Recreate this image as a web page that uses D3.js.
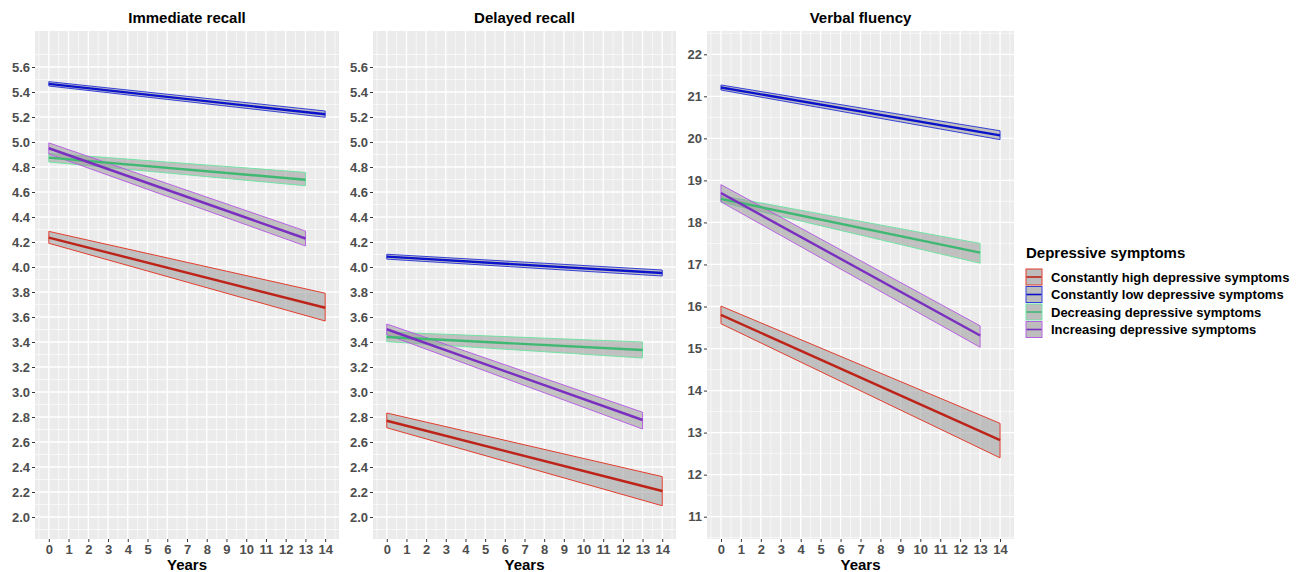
<!DOCTYPE html>
<html>
<head>
<meta charset="utf-8">
<script src="https://cdn.jsdelivr.net/npm/d3@7"></script>
<style>
  body { margin: 0; background: #fff; }
  text { font-family: "Liberation Sans", Arial, sans-serif; font-weight: bold; }
</style>
</head>
<body>
<script>
// groups, in legend order
var groups = ["Constantly high depressive symptoms", "Constantly low depressive symptoms",
              "Decreasing depressive symptoms", "Increasing depressive symptoms"];
var lineColor = ["#bd2318", "#0b12cc", "#3fb872", "#7a2fc0"];
var edgeColor = ["#e23d2d", "#3540d6", "#72e3a4", "#b862e3"];

// first and last year of each trajectory
var startYear = [0, 0, 0, 0];
var endYear = [14, 14, 13, 13];

// estimate / lower / upper at [start, end]
var immediateEst = [[4.235, 3.674], [5.465, 5.222], [4.875, 4.698], [4.950, 4.228]];
var immediateLo  = [[4.190, 3.568], [5.448, 5.198], [4.840, 4.650], [4.905, 4.168]];
var immediateHi  = [[4.285, 3.790], [5.483, 5.248], [4.910, 4.757], [4.993, 4.288]];

var delayedEst = [[2.770, 2.208], [4.083, 3.952], [3.440, 3.336], [3.502, 2.776]];
var delayedLo  = [[2.714, 2.090], [4.063, 3.928], [3.403, 3.272], [3.459, 2.704]];
var delayedHi  = [[2.832, 2.323], [4.102, 3.976], [3.480, 3.400], [3.544, 2.838]];

var fluencyEst = [[15.80, 12.82], [21.21, 20.07], [18.56, 17.28], [18.70, 15.31]];
var fluencyLo  = [[15.59, 12.40], [21.15, 19.97], [18.48, 17.03], [18.49, 15.03]];
var fluencyHi  = [[16.01, 13.22], [21.27, 20.18], [18.64, 17.50], [18.90, 15.54]];

// tick labels
var xTicks = [0, 1, 2, 3, 4, 5, 6, 7, 8, 9, 10, 11, 12, 13, 14];
var recallTicks = [2.0, 2.2, 2.4, 2.6, 2.8, 3.0, 3.2, 3.4, 3.6, 3.8, 4.0, 4.2, 4.4, 4.6, 4.8, 5.0, 5.2, 5.4, 5.6];
var fluencyTicks = [11, 12, 13, 14, 15, 16, 17, 18, 19, 20, 21, 22];

var panels = [
  {title: "Immediate recall", est: immediateEst, lo: immediateLo, hi: immediateHi,
   left: 35, right: 339, domain: [1.824, 5.888], ticks: recallTicks, step: 0.2, fmt: d3.format(".1f")},
  {title: "Delayed recall", est: delayedEst, lo: delayedLo, hi: delayedHi,
   left: 373, right: 676, domain: [1.824, 5.888], ticks: recallTicks, step: 0.2, fmt: d3.format(".1f")},
  {title: "Verbal fluency", est: fluencyEst, lo: fluencyLo, hi: fluencyHi,
   left: 707, right: 1014, domain: [10.469, 22.554], ticks: fluencyTicks, step: 1, fmt: d3.format("d")}
];

var plotTop = 31, plotBottom = 539;

var svg = d3.select("body").append("svg")
    .attr("width", 1306)
    .attr("height", 572);

svg.append("rect").attr("width", 1306).attr("height", 572).attr("fill", "#fff");

// minor breaks halfway between (extended) major breaks, kept inside the limits
function minorBreaks(ticks, step, dom) {
  var out = [];
  var b = [ticks[0] - step].concat(ticks, [ticks[ticks.length - 1] + step]);
  for (var i = 0; i < b.length - 1; i++) out.push((b[i] + b[i + 1]) / 2);
  return out.filter(function(v) { return v > dom[0] && v < dom[1]; });
}

panels.forEach(function(p) {
  var w = p.right - p.left, h = plotBottom - plotTop;
  var x = d3.scaleLinear().domain([-0.7, 14.7]).range([0, w]);
  var y = d3.scaleLinear().domain(p.domain).range([h, 0]);

  var g = svg.append("g").attr("transform", "translate(" + p.left + "," + plotTop + ")");

  g.append("rect").attr("width", w).attr("height", h).attr("fill", "#ebebeb");

  // gridlines
  var yMinor = minorBreaks(p.ticks, p.step, p.domain);
  var xMinor = minorBreaks(xTicks, 1, x.domain());
  g.selectAll(".ymin").data(yMinor).enter().append("line")
      .attr("x1", 0).attr("x2", w)
      .attr("y1", function(d) { return y(d); }).attr("y2", function(d) { return y(d); })
      .attr("stroke", "#fff").attr("stroke-width", 0.6);
  g.selectAll(".xmin").data(xMinor).enter().append("line")
      .attr("y1", 0).attr("y2", h)
      .attr("x1", function(d) { return x(d); }).attr("x2", function(d) { return x(d); })
      .attr("stroke", "#fff").attr("stroke-width", 0.6);
  g.selectAll(".ymaj").data(p.ticks).enter().append("line")
      .attr("x1", 0).attr("x2", w)
      .attr("y1", function(d) { return y(d); }).attr("y2", function(d) { return y(d); })
      .attr("stroke", "#fff").attr("stroke-width", 1.3);
  g.selectAll(".xmaj").data(xTicks).enter().append("line")
      .attr("y1", 0).attr("y2", h)
      .attr("x1", function(d) { return x(d); }).attr("x2", function(d) { return x(d); })
      .attr("stroke", "#fff").attr("stroke-width", 1.3);

  // ribbons
  groups.forEach(function(grp, i) {
    var xs = [startYear[i], endYear[i]];
    var pts = xs.map(function(t, k) { return {t: t, lo: p.lo[i][k], hi: p.hi[i][k]}; });
    var area = d3.area()
        .x(function(d) { return x(d.t); })
        .y0(function(d) { return y(d.lo); })
        .y1(function(d) { return y(d.hi); });
    g.append("path").datum(pts)
        .attr("d", area)
        .attr("fill", "#9a9a9a").attr("fill-opacity", 0.55)
        .attr("stroke", edgeColor[i]).attr("stroke-width", 1);
  });

  // lines
  groups.forEach(function(grp, i) {
    var pts = [startYear[i], endYear[i]].map(function(t, k) { return {t: t, v: p.est[i][k]}; });
    var line = d3.line().x(function(d) { return x(d.t); }).y(function(d) { return y(d.v); });
    g.append("path").datum(pts).attr("d", line)
        .attr("fill", "none").attr("stroke", lineColor[i]).attr("stroke-width", 2.4);
  });

  // axes
  var ya = g.append("g").call(d3.axisLeft(y).tickValues(p.ticks).tickFormat(p.fmt).tickSize(3).tickPadding(2));
  var xa = g.append("g").attr("transform", "translate(0," + h + ")")
      .call(d3.axisBottom(x).tickValues(xTicks).tickSize(3).tickPadding(3));
  [ya, xa].forEach(function(a) {
    a.select(".domain").remove();
    a.selectAll(".tick line").attr("stroke", "#333");
    a.selectAll(".tick text").attr("fill", "#4d4d4d")
        .style("font-size", "13px").style("font-family", "Liberation Sans, Arial, sans-serif")
        .style("font-weight", "bold");
  });

  // panel title
  svg.append("text")
      .attr("x", p.left + w / 2).attr("y", 23)
      .attr("text-anchor", "middle")
      .style("font-size", "15px").attr("fill", "#000")
      .text(p.title);

  // x label
  svg.append("text")
      .attr("x", p.left + w / 2).attr("y", 570)
      .attr("text-anchor", "middle")
      .style("font-size", "15px").attr("fill", "#000")
      .text("Years");
});

// legend
var legend = svg.append("g").attr("transform", "translate(1026,0)");
legend.append("text").attr("x", 0).attr("y", 258)
    .style("font-size", "15px").attr("fill", "#000")
    .text("Depressive symptoms");

var rows = legend.selectAll(".legend").data(groups).enter().append("g")
    .attr("class", "legend")
    .attr("transform", function(d, i) { return "translate(0," + (269 + i * 17.5) + ")"; });

rows.append("rect")
    .attr("x", 0).attr("y", 0).attr("width", 16).attr("height", 16)
    .attr("fill", "#bdbdbd")
    .attr("stroke", function(d, i) { return edgeColor[i]; }).attr("stroke-width", 1);
rows.append("line")
    .attr("x1", 0.5).attr("x2", 15.5).attr("y1", 8).attr("y2", 8)
    .attr("stroke", function(d, i) { return lineColor[i]; }).attr("stroke-width", 1.6);
rows.append("text")
    .attr("x", 25).attr("y", 8).attr("dy", "0.35em")
    .style("font-size", "13px").attr("fill", "#000")
    .text(function(d) { return d; });
</script>
</body>
</html>
